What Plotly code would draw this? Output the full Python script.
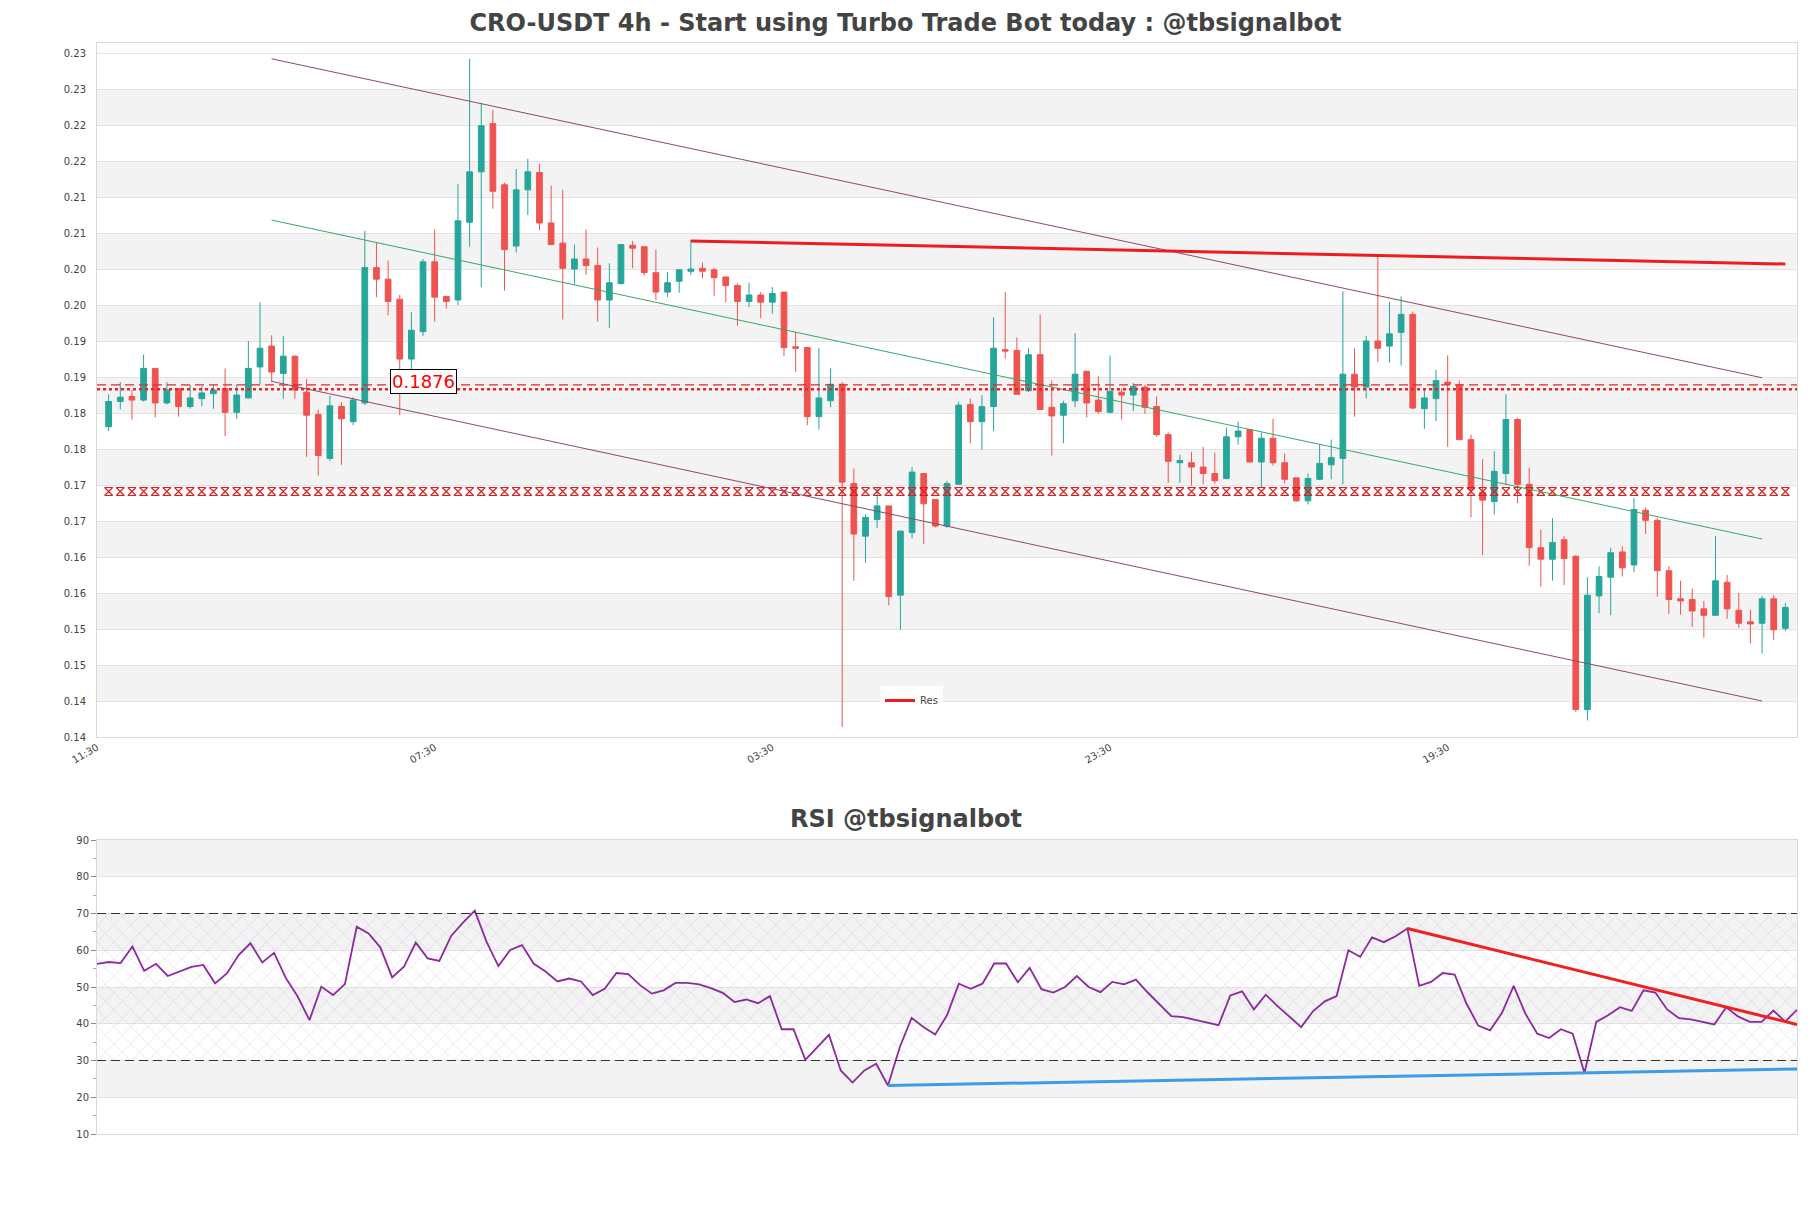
import plotly.graph_objects as go
import pandas as pd

# ---------------- data ----------------
open_ = [0.1831,0.1866,0.1873,0.1868,0.1912,0.1864,0.1884,0.1859,0.1870,0.1877,
         0.1884,0.1851,0.1871,0.1914,0.1943,0.1905,0.1929,0.1879,0.1848,0.1787,
         0.1859,0.1838,0.1864,0.2052,0.2036,0.2008,0.1925,0.1963,0.2060,0.2012,
         0.2007,0.2115,0.2185,0.2252,0.2167,0.2082,0.2160,0.2184,0.2114,0.2086,
         0.2050,0.2064,0.2055,0.2007,0.2030,0.2083,0.2081,0.2045,0.2018,0.2033,
         0.2047,0.2051,0.2049,0.2039,0.2027,0.2005,0.2014,0.2004,0.2018,0.1942,
         0.1941,0.1845,0.1867,0.1890,0.1752,0.1679,0.1702,0.1721,0.1597,0.1684,
         0.1766,0.1730,0.1693,0.1751,0.1862,0.1838,0.1859,0.1938,0.1937,0.1881,
         0.1931,0.1858,0.1847,0.1867,0.1908,0.1868,0.1851,0.1879,0.1875,0.1886,
         0.1859,0.1820,0.1781,0.1781,0.1775,0.1766,0.1759,0.1817,0.1827,0.1782,
         0.1815,0.1781,0.1760,0.1728,0.1758,0.1778,0.1787,0.1904,0.1886,0.1950,
         0.1943,0.1962,0.1987,0.1856,0.1870,0.1893,0.1889,0.1813,0.1740,0.1727,
         0.1766,0.1841,0.1751,0.1663,0.1647,0.1674,0.1651,0.1438,0.1596,0.1622,
         0.1657,0.1639,0.1715,0.1701,0.1631,0.1592,0.1591,0.1578,0.1569,0.1615,
         0.1576,0.1560,0.1558,0.1592,0.1551]
high = [0.1876,0.1893,0.1882,0.1931,0.1912,0.1893,0.1884,0.1889,0.1887,0.1889,
        0.1912,0.1890,0.1950,0.2004,0.1958,0.1957,0.1930,0.1897,0.1855,0.1874,
        0.1865,0.1872,0.2103,0.2087,0.2062,0.2014,0.1990,0.2064,0.2105,0.2012,
        0.2168,0.2342,0.2281,0.2271,0.2170,0.2189,0.2203,0.2196,0.2166,0.2160,
        0.2084,0.2105,0.2080,0.2058,0.2084,0.2089,0.2081,0.2077,0.2046,0.2049,
        0.2090,0.2059,0.2052,0.2039,0.2030,0.2031,0.2018,0.2025,0.2018,0.1963,
        0.1941,0.1940,0.1912,0.1893,0.1773,0.1709,0.1746,0.1721,0.1686,0.1775,
        0.1766,0.1730,0.1756,0.1866,0.1870,0.1875,0.1983,0.2018,0.1955,0.1940,
        0.1987,0.1895,0.1867,0.1961,0.1908,0.1901,0.1930,0.1884,0.1892,0.1889,
        0.1873,0.1823,0.1792,0.1796,0.1803,0.1795,0.1830,0.1838,0.1828,0.1823,
        0.1842,0.1794,0.1760,0.1766,0.1806,0.1813,0.2019,0.1940,0.1957,0.2069,
        0.2004,0.2012,0.1991,0.1882,0.1910,0.1930,0.1895,0.1820,0.1786,0.1797,
        0.1876,0.1843,0.1774,0.1688,0.1704,0.1679,0.1653,0.1622,0.1637,0.1663,
        0.1665,0.1732,0.1719,0.1704,0.1637,0.1617,0.1606,0.1589,0.1679,0.1625,
        0.1600,0.1577,0.1596,0.1597,0.1586]
low = [0.1825,0.1855,0.1841,0.1866,0.1844,0.1862,0.1845,0.1856,0.1859,0.1856,
       0.1818,0.1842,0.1870,0.1890,0.1893,0.1870,0.1870,0.1789,0.1763,0.1783,
       0.1778,0.1833,0.1861,0.2011,0.1986,0.1847,0.1907,0.1957,0.1977,0.1995,
       0.2000,0.2081,0.2025,0.2134,0.2020,0.2073,0.2125,0.2104,0.2084,0.1980,
       0.2028,0.2042,0.1977,0.1968,0.2028,0.2051,0.2041,0.2007,0.2011,0.2017,
       0.2042,0.2037,0.2013,0.2004,0.1971,0.1997,0.1982,0.1988,0.1929,0.1907,
       0.1833,0.1827,0.1858,0.1414,0.1617,0.1642,0.1690,0.1583,0.1549,0.1676,
       0.1668,0.1691,0.1690,0.1751,0.1808,0.1799,0.1825,0.1926,0.1876,0.1879,
       0.1855,0.1791,0.1808,0.1858,0.1844,0.1849,0.1850,0.1841,0.1853,0.1849,
       0.1817,0.1753,0.1753,0.1749,0.1751,0.1752,0.1758,0.1806,0.1782,0.1747,
       0.1777,0.1752,0.1727,0.1723,0.1757,0.1758,0.1751,0.1845,0.1870,0.1921,
       0.1920,0.1916,0.1855,0.1828,0.1839,0.1803,0.1813,0.1705,0.1653,0.1709,
       0.1750,0.1725,0.1638,0.1609,0.1617,0.1611,0.1435,0.1423,0.1572,0.1569,
       0.1623,0.1629,0.1682,0.1595,0.1571,0.1570,0.1553,0.1538,0.1569,0.1564,
       0.1552,0.1530,0.1516,0.1535,0.1547]
close = [0.1866,0.1872,0.1868,0.1912,0.1864,0.1882,0.1859,0.1871,0.1878,0.1882,
         0.1851,0.1875,0.1912,0.1940,0.1907,0.1929,0.1882,0.1847,0.1791,0.1860,
         0.1842,0.1868,0.2052,0.2036,0.2005,0.1925,0.1965,0.2060,0.2011,0.2005,
         0.2117,0.2185,0.2249,0.2158,0.2077,0.2160,0.2185,0.2114,0.2084,0.2051,
         0.2064,0.2055,0.2007,0.2031,0.2084,0.2079,0.2045,0.2018,0.2031,0.2049,
         0.2050,0.2047,0.2038,0.2027,0.2005,0.2014,0.2004,0.2016,0.1941,0.1940,
         0.1845,0.1871,0.1890,0.1754,0.1682,0.1705,0.1721,0.1595,0.1686,0.1768,
         0.1724,0.1693,0.1752,0.1861,0.1838,0.1859,0.1940,0.1936,0.1876,0.1931,
         0.1855,0.1846,0.1863,0.1904,0.1864,0.1852,0.1880,0.1875,0.1887,0.1858,
         0.1820,0.1783,0.1784,0.1775,0.1766,0.1756,0.1817,0.1825,0.1782,0.1815,
         0.1781,0.1758,0.1728,0.1759,0.1780,0.1788,0.1904,0.1886,0.1950,0.1940,
         0.1960,0.1987,0.1857,0.1871,0.1895,0.1890,0.1813,0.1744,0.1729,0.1769,
         0.1841,0.1751,0.1663,0.1647,0.1670,0.1648,0.1438,0.1597,0.1623,0.1656,
         0.1635,0.1716,0.1701,0.1631,0.1591,0.1589,0.1575,0.1569,0.1617,0.1578,
         0.1558,0.1557,0.1592,0.1549,0.1580]
rsi = [56.3,56.8,56.5,61.0,54.4,56.3,53.0,54.2,55.5,56.0,
       51.0,53.7,58.7,61.9,56.7,59.3,52.4,47.4,41.0,50.1,
       47.8,50.8,66.4,64.6,60.8,52.6,55.5,62.1,57.8,57.1,
       63.9,67.5,70.8,62.3,55.7,60.1,61.4,56.3,54.2,51.5,
       52.3,51.5,47.8,49.5,53.8,53.5,50.5,48.2,49.1,51.1,
       51.1,50.7,49.7,48.4,45.9,46.6,45.6,47.5,38.5,38.5,
       30.2,33.6,37.0,27.3,24.0,27.3,29.1,23.2,33.6,41.6,
       39.1,37.1,42.3,50.9,49.5,50.9,56.4,56.4,51.3,55.2,
       49.4,48.5,50.0,53.0,50.0,48.6,51.4,50.7,52.0,48.5,
       45.3,42.1,41.8,41.1,40.5,39.6,47.7,48.8,43.9,47.9,
       44.8,42.0,39.1,43.4,46.1,47.5,60.0,58.2,63.5,62.2,
       63.8,65.9,50.3,51.4,53.8,53.4,45.5,39.5,38.2,42.9,
       50.3,42.7,37.3,36.1,38.5,37.3,26.6,40.5,42.3,44.5,
       43.5,49.1,48.5,43.9,41.5,41.2,40.6,39.8,44.5,42.0,
       40.5,40.5,43.6,40.6,43.8]

# trend / channel lines: (candle index, price)
upper_channel_idx = [14, 142]; upper_channel_val = [0.2342, 0.1899]
lower_channel_idx = [14, 142]; lower_channel_val = [0.1894, 0.1450]
mid_channel_idx = [14, 142];   mid_channel_val = [0.2118, 0.1675]
res_idx = [50, 144];           res_val = [0.2089, 0.2057]
# horizontal levels
dash_level = 0.1889
dot_level = 0.1883
support_level = 0.1741
level_label = "0.1876"
level_label_idx = 27
# RSI trend lines (index, value)
rsi_res_idx = [111, 144]; rsi_res_val = [65.9, 39.8]
rsi_sup_idx = [67, 144];  rsi_sup_val = [23.2, 27.7]
rsi_levels = [30, 70]

price_ticks = [0.14, 0.145, 0.15, 0.155, 0.16, 0.165, 0.17, 0.175, 0.18, 0.185,
               0.19, 0.195, 0.20, 0.205, 0.21, 0.215, 0.22, 0.225, 0.23, 0.235]
price_tick_labels = ["0.14", "0.14", "0.15", "0.15", "0.16", "0.16", "0.17", "0.17", "0.18", "0.18",
                     "0.19", "0.19", "0.20", "0.20", "0.21", "0.21", "0.22", "0.22", "0.23", "0.23"]
x_tick_idx = [-1, 28, 57, 86, 115]
x_tick_labels = ["11:30", "07:30", "03:30", "23:30", "19:30"]
rsi_ticks = [10, 20, 30, 40, 50, 60, 70, 80, 90]

# ---------------- figure ----------------
step = pd.Timedelta(hours=4)
start = pd.Timestamp("2024-01-01 15:30")
dates = [start + i * step for i in range(len(close))]
def d(i):
    return start + i * step

GREEN = "#26a69a"
RED = "#ef5350"
CHAN = "#8c4a6e"
FONT = "DejaVu Sans"

fig = go.Figure()

fig.add_trace(go.Candlestick(
    x=dates, open=open_, high=high, low=low, close=close,
    increasing=dict(line=dict(color=GREEN, width=1), fillcolor=GREEN),
    decreasing=dict(line=dict(color=RED, width=1), fillcolor=RED),
    whiskerwidth=0, showlegend=False, name="CRO-USDT", xaxis="x", yaxis="y"))

# support band (x pattern)
fig.add_trace(go.Scatter(
    x=dates, y=[support_level] * len(dates), mode="markers",
    marker=dict(symbol="hourglass-open", size=8, color="#dd1f24", line=dict(width=1.2, color="#dd1f24")),
    showlegend=False, hoverinfo="skip", xaxis="x", yaxis="y"))

for xi, yv, col, w in [(upper_channel_idx, upper_channel_val, CHAN, 1),
                       (lower_channel_idx, lower_channel_val, CHAN, 1),
                       (mid_channel_idx, mid_channel_val, "#3aa864", 1)]:
    fig.add_trace(go.Scatter(x=[d(i) for i in xi], y=yv, mode="lines",
                             line=dict(color=col, width=w), showlegend=False,
                             hoverinfo="skip", xaxis="x", yaxis="y"))

fig.add_trace(go.Scatter(x=[d(i) for i in res_idx], y=res_val, mode="lines",
                         line=dict(color="#ee1c1c", width=3), name="Res",
                         showlegend=True, xaxis="x", yaxis="y"))

# RSI hatched zone
rx = [dates[0], dates[-1], dates[-1], dates[0], dates[0]]
ry = [rsi_levels[0], rsi_levels[0], rsi_levels[1], rsi_levels[1], rsi_levels[0]]
fig.add_trace(go.Scatter(x=rx, y=ry, mode="lines", fill="toself",
                         line=dict(width=0), fillcolor="rgba(0,0,0,0)",
                         fillpattern=dict(shape="x", size=12, solidity=0.1,
                                          fgcolor="rgba(165,125,190,0.6)"),
                         showlegend=False, hoverinfo="skip", xaxis="x2", yaxis="y2"))
fig.add_trace(go.Scatter(x=dates, y=rsi, mode="lines",
                         line=dict(color="#8b2a9c", width=1.8), showlegend=False,
                         name="RSI", xaxis="x2", yaxis="y2"))
fig.add_trace(go.Scatter(x=[d(i) for i in rsi_res_idx], y=rsi_res_val, mode="lines",
                         line=dict(color="#f02020", width=3), showlegend=False,
                         xaxis="x2", yaxis="y2"))
fig.add_trace(go.Scatter(x=[d(i) for i in rsi_sup_idx], y=rsi_sup_val, mode="lines",
                         line=dict(color="#3d9be9", width=3), showlegend=False,
                         xaxis="x2", yaxis="y2"))

shapes = []
for i in range(len(price_ticks) - 1):
    if i % 2 == 1:
        shapes.append(dict(type="rect", xref="x domain", yref="y", x0=0, x1=1,
                           y0=price_ticks[i], y1=price_ticks[i + 1],
                           fillcolor="#f3f3f3", line=dict(width=0), layer="below"))
for i in range(len(rsi_ticks) - 1):
    if i % 2 == 1:
        shapes.append(dict(type="rect", xref="x2 domain", yref="y2", x0=0, x1=1,
                           y0=rsi_ticks[i], y1=rsi_ticks[i + 1],
                           fillcolor="#f3f3f3", line=dict(width=0), layer="below"))
shapes.append(dict(type="line", xref="x domain", yref="y", x0=0, x1=1, y0=dash_level, y1=dash_level,
                   line=dict(color="#e8262a", width=1.3, dash="9px,5px")))
shapes.append(dict(type="line", xref="x domain", yref="y", x0=0, x1=1, y0=dot_level, y1=dot_level,
                   line=dict(color="#e8262a", width=2.5, dash="dot")))
for lv in rsi_levels:
    shapes.append(dict(type="line", xref="x2 domain", yref="y2", x0=0, x1=1, y0=lv, y1=lv,
                       line=dict(color="#333333", width=1.2, dash="9px,5px")))

axis_line = dict(showline=True, mirror=True, linecolor="#d9d9d9", linewidth=1)
fig.update_layout(
    width=1811, height=1208,
    margin=dict(l=97, r=14, t=43, b=74),
    paper_bgcolor="white", plot_bgcolor="white",
    font=dict(family=FONT, color="#444444", size=10),
    title=dict(text="<b>CRO-USDT 4h - Start using Turbo Trade Bot today : @tbsignalbot</b>",
               x=0.5, xanchor="center", y=1 - 23 / 1208, yanchor="middle",
               font=dict(family=FONT, size=24, color="#444444")),
    xaxis=dict(domain=[0, 1], anchor="y", type="date",
               range=[d(-1), d(len(close))],
               rangeslider=dict(visible=False),
               tickvals=[d(i) for i in x_tick_idx], ticktext=x_tick_labels,
               tickangle=-30, showgrid=False, tickfont=dict(size=10), **axis_line),
    yaxis=dict(domain=[(1134 - 737) / 1091, 1], anchor="x",
               range=[0.14, 0.2364], tickvals=price_ticks, ticktext=price_tick_labels,
               gridcolor="#e3e3e3", zeroline=False, ticklabelstandoff=8,
               tickfont=dict(size=10), **axis_line),
    xaxis2=dict(domain=[0, 1], anchor="y2", type="date",
                range=[dates[0], dates[-1]], showticklabels=False, showgrid=False, **axis_line),
    yaxis2=dict(domain=[0, (1134 - 840) / 1091], anchor="x2", range=[10, 90],
                tickvals=rsi_ticks, gridcolor="#e3e3e3", zeroline=False,
                ticks="outside", ticklen=5, tickcolor="#888888",
                minor=dict(ticks="outside", ticklen=3, tickcolor="#aaaaaa", dtick=5, showgrid=False),
                tickfont=dict(size=10), **axis_line),
    shapes=shapes,
    showlegend=True,
    legend=dict(x=(880 - 97) / 1700, y=(1134 - 686) / 1091, xanchor="left", yanchor="top",
                bgcolor="rgba(255,255,255,0.85)", font=dict(size=10), itemwidth=30),
    annotations=[
        dict(text="<b>RSI @tbsignalbot</b>", xref="paper", yref="paper",
             x=(905.5 - 97) / 1700, y=(1134 - 819) / 1091, xanchor="center", yanchor="middle",
             showarrow=False, font=dict(family=FONT, size=24, color="#444444")),
        dict(text=level_label, x=d(level_label_idx), y=dash_level, xref="x", yref="y",
             showarrow=False, yshift=3, font=dict(family=FONT, size=18, color="#ff0000"),
             bgcolor="white", bordercolor="black", borderwidth=1, borderpad=1),
    ],
)

fig.write_html("out.html", config={"displayModeBar": False},
               post_script="document.body.style.margin='0px';")
